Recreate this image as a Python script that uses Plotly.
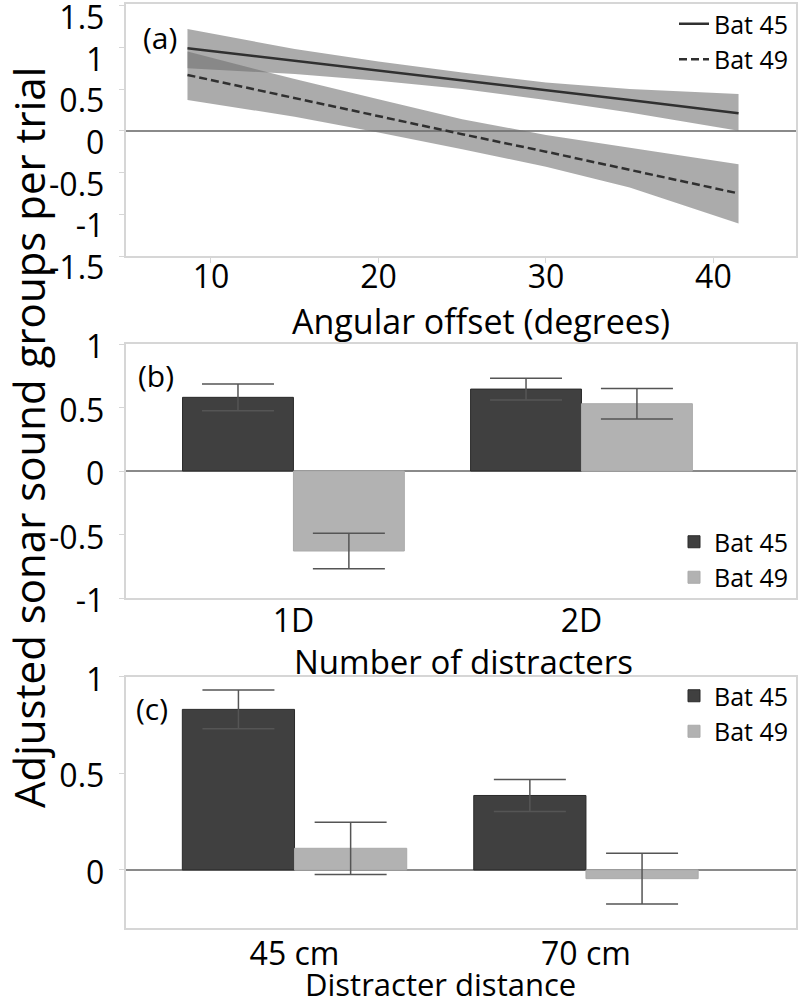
import plotly.graph_objects as go

# ---------------- data ----------------
# Panel (a): regression lines with confidence bands
angle_x = [8.6, 15, 20, 25, 30, 35, 41.5]
bat45_line = [0.99, 0.84, 0.72, 0.60, 0.48, 0.37, 0.21]
bat45_upper = [1.22, 0.98, 0.83, 0.70, 0.58, 0.50, 0.44]
bat45_lower = [0.75, 0.68, 0.60, 0.50, 0.37, 0.22, 0.00]
bat49_line = [0.67, 0.39, 0.17, -0.04, -0.25, -0.47, -0.75]
bat49_upper = [0.95, 0.62, 0.38, 0.14, -0.05, -0.20, -0.40]
bat49_lower = [0.37, 0.17, -0.02, -0.22, -0.43, -0.68, -1.11]

# Panel (b): number of distracters
dist_num_cats = ["1D", "2D"]
b_bat45 = [0.58, 0.645]
b_bat45_err = [0.105, 0.085]
b_bat49 = [-0.63, 0.53]
b_bat49_err = [0.14, 0.12]

# Panel (c): distracter distance
dist_cats = ["45 cm", "70 cm"]
c_bat45 = [0.83, 0.385]
c_bat45_err = [0.10, 0.083]
c_bat49 = [0.112, -0.045]
c_bat49_err = [0.135, 0.131]

series_names = ["Bat 45", "Bat 49"]

# ---------------- style ----------------
FONT = "Open Sans"
W, H = 800, 1005
DARK = "#404040"
LIGHT = "#b2b2b2"
BAND = "rgba(110,110,110,0.58)"
LINE = "#303030"
FRAME = "#d6d6d6"
ERR = "#555555"


def px_x(p):
    return p / W


def px_y(p):
    return 1 - p / H


fig = go.Figure()

# ---- panel (a) ----
fig.add_trace(go.Scatter(
    x=angle_x + angle_x[::-1], y=bat45_upper + bat45_lower[::-1],
    fill="toself", fillcolor=BAND, line=dict(width=0), mode="lines",
    showlegend=False, hoverinfo="skip", xaxis="x", yaxis="y"))
fig.add_trace(go.Scatter(
    x=angle_x + angle_x[::-1], y=bat49_upper + bat49_lower[::-1],
    fill="toself", fillcolor=BAND, line=dict(width=0), mode="lines",
    showlegend=False, hoverinfo="skip", xaxis="x", yaxis="y"))
fig.add_trace(go.Scatter(
    x=angle_x, y=bat45_line, mode="lines", name=series_names[0],
    line=dict(color=LINE, width=2.5), legend="legend", xaxis="x", yaxis="y"))
fig.add_trace(go.Scatter(
    x=angle_x, y=bat49_line, mode="lines", name=series_names[1],
    line=dict(color=LINE, width=2.5, dash="8px,4px"), legend="legend",
    xaxis="x", yaxis="y"))

# ---- panel (b) ----
fig.add_trace(go.Bar(
    x=dist_num_cats, y=b_bat45, name=series_names[0], marker=dict(color=DARK, line=dict(color="#2a2a2a", width=1)),
    error_y=dict(type="data", array=b_bat45_err, color=ERR, thickness=1.5, width=36),
    legend="legend2", xaxis="x2", yaxis="y2"))
fig.add_trace(go.Bar(
    x=dist_num_cats, y=b_bat49, name=series_names[1], marker=dict(color=LIGHT, line=dict(color="#aaaaaa", width=1)),
    error_y=dict(type="data", array=b_bat49_err, color=ERR, thickness=1.5, width=36),
    legend="legend2", xaxis="x2", yaxis="y2"))

# ---- panel (c) ----
fig.add_trace(go.Bar(
    x=dist_cats, y=c_bat45, name=series_names[0], marker=dict(color=DARK, line=dict(color="#2a2a2a", width=1)),
    error_y=dict(type="data", array=c_bat45_err, color=ERR, thickness=1.5, width=36),
    legend="legend3", xaxis="x3", yaxis="y3"))
fig.add_trace(go.Bar(
    x=dist_cats, y=c_bat49, name=series_names[1], marker=dict(color=LIGHT, line=dict(color="#aaaaaa", width=1)),
    error_y=dict(type="data", array=c_bat49_err, color=ERR, thickness=1.5, width=36),
    legend="legend3", xaxis="x3", yaxis="y3"))

tickfont = dict(family=FONT, size=32, color="black")
frame = dict(showline=True, linecolor=FRAME, linewidth=1.5, mirror=True,
             showgrid=False, automargin=False)


def yticks(vals):
    return dict(tickvals=vals, ticktext=[("%g" % v) for v in vals])


xdom = [px_x(125.5), px_x(795.5)]
legfont = dict(family=FONT, size=25, color="black")

fig.update_layout(
    width=W, height=H, margin=dict(l=0, r=0, t=0, b=0, autoexpand=False),
    paper_bgcolor="white", plot_bgcolor="white",
    font=dict(family=FONT, color="black"),
    barmode="group", bargap=0.23, bargroupgap=0,
    xaxis=dict(domain=xdom, anchor="y", range=[4.9, 44.9], tickvals=[10, 20, 30, 40],
               ticks="outside", ticklen=5, tickcolor=FRAME, tickfont=tickfont,
               ticklabelstandoff=-13, zeroline=False, **frame),
    yaxis=dict(domain=[px_y(256), px_y(4)], anchor="x", range=[-1.5, 1.52],
               ticks="outside", ticklen=5, tickcolor=FRAME, tickfont=tickfont,
               ticklabelstandoff=8, ticklabelshift=12, ticklabeloverflow="allow",
               zeroline=True, zerolinecolor="#8a8a8a", zerolinewidth=1.5,
               **yticks([-1.5, -1, -0.5, 0, 0.5, 1, 1.5]), **frame),
    xaxis2=dict(domain=xdom, anchor="y2", type="category", range=[-0.583, 1.743],
                ticks="", tickfont=tickfont, ticklabelstandoff=-6, **frame),
    yaxis2=dict(domain=[px_y(598), px_y(344)], anchor="x2", range=[-1, 1],
                ticks="outside", ticklen=5, tickcolor=FRAME, tickfont=tickfont,
                ticklabelstandoff=8, ticklabelshift=3, ticklabeloverflow="allow",
                zeroline=True, zerolinecolor="#8a8a8a", zerolinewidth=1.5,
                **yticks([-1, -0.5, 0, 0.5, 1]), **frame),
    xaxis3=dict(domain=xdom, anchor="y3", type="category", range=[-0.58, 1.719],
                ticks="", tickfont=tickfont, ticklabelstandoff=-3, **frame),
    yaxis3=dict(domain=[px_y(928), px_y(676.5)], anchor="x3", range=[-0.3, 1],
                ticks="outside", ticklen=5, tickcolor=FRAME, tickfont=tickfont,
                ticklabelstandoff=8, ticklabelshift=3, ticklabeloverflow="allow",
                zeroline=True, zerolinecolor="#8a8a8a", zerolinewidth=1.5,
                **yticks([0, 0.5, 1]), **frame),
    legend=dict(x=px_x(794), xanchor="right", y=px_y(1), yanchor="top",
                font=legfont, bgcolor="rgba(0,0,0,0)",
                tracegroupgap=0, itemwidth=30),
    legend2=dict(x=px_x(794), xanchor="right", y=px_y(600), yanchor="bottom",
                 font=legfont, bgcolor="rgba(0,0,0,0)",
                 traceorder="normal", itemwidth=30),
    legend3=dict(x=px_x(794), xanchor="right", y=px_y(673), yanchor="top",
                 font=legfont, bgcolor="rgba(0,0,0,0)",
                 traceorder="normal", itemwidth=30),
)

annotations = [
    dict(text="(a)", x=px_x(160), y=px_y(38)),
    dict(text="(b)", x=px_x(156), y=px_y(376)),
    dict(text="(c)", x=px_x(152), y=px_y(708)),
]
for a in annotations:
    fig.add_annotation(xref="paper", yref="paper", showarrow=False,
                       xanchor="center", yanchor="middle",
                       font=dict(family=FONT, size=30, color="black"), **a)

axis_titles = [
    dict(text="Angular offset (degrees)", x=px_x(481), y=px_y(321), size=34),
    dict(text="Number of distracters", x=px_x(463), y=px_y(661), size=33),
    dict(text="Distracter distance", x=px_x(440), y=px_y(984), size=31),
]
for a in axis_titles:
    fig.add_annotation(xref="paper", yref="paper", showarrow=False,
                       xanchor="center", yanchor="middle", text=a["text"],
                       x=a["x"], y=a["y"],
                       font=dict(family=FONT, size=a["size"], color="black"))

fig.add_annotation(text="Adjusted sonar sound groups per trial", xref="paper", yref="paper",
                   x=px_x(28), y=px_y(438), textangle=-90, showarrow=False,
                   xanchor="center", yanchor="middle",
                   font=dict(family=FONT, size=42, color="black"))

fig.write_html("out.html", config={"displayModeBar": False},
               post_script="document.body.style.margin='0px';")
